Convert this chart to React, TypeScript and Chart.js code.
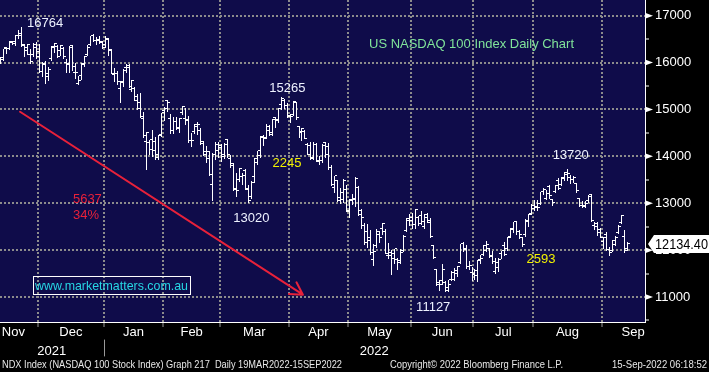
import React, { useEffect, useRef } from 'react';
import { Chart, registerables } from 'chart.js';

Chart.register(...registerables);

// ---------- data ----------
const monthNames = ['Nov', 'Dec', 'Jan', 'Feb', 'Mar', 'Apr', 'May', 'Jun', 'Jul', 'Aug', 'Sep'];
// trading days of each month that are shown in the chart
const monthShownDays = [13, 22, 20, 19, 23, 20, 21, 21, 20, 23, 9];
// trading days of each full month (used to centre the partly shown months)
const monthFullDays = [21, 22, 20, 19, 23, 20, 21, 21, 20, 23, 21];
const yearNames = ['2021', '2022'];
const yearFirstMonth = [0, 2];

const opens = [
  16010, 16100, 16320, 16290, 16440, 16440, 16580, 16620, 16360, 16260, 16180, 16180, 16320,
  16230, 15800, 15990, 15760, 16090, 16350, 16350, 16250, 16310, 16010, 15960, 16370, 15790, 15560, 15720, 15950, 16170, 16380, 16580, 16480, 16480, 16420,
  16380, 16520, 16250, 15740, 15760, 15440, 15580, 15900, 15940, 15430, 15440, 15270, 15150, 14800, 14320, 14300, 14350, 14320, 14050, 14470,
  14970, 15190, 14800, 14550, 14750, 14590, 14940, 14800, 14780, 14340, 14530, 14630, 14560, 14320, 14040, 14110, 13400, 14050, 14130,
  14180, 14040, 14350, 13960, 13810, 13290, 13510, 13580, 13700, 13320, 13150, 13580, 13870, 14020, 14400, 14410, 14560, 14510, 14820, 14760, 15110, 15190, 15090,
  14880, 14900, 15140, 14630, 14520, 14520, 14260, 14240, 13960, 14260, 13920, 13910, 14300, 14200, 13760, 13330, 13480, 13130, 13230, 13290,
  12820, 13060, 13070, 13330, 12770, 12530, 12400, 12200, 11810, 12100, 12340, 12460, 12400, 11890, 11960, 11920, 11800, 11740, 11990, 12410, 12640,
  12700, 12540, 12690, 12740, 12500, 12700, 12580, 12090, 11580, 11300, 11360, 11320, 11200, 11380, 11380, 11570, 11730, 12150, 12020, 11660, 11520,
  11490, 11450, 11800, 11900, 12000, 12030, 11880, 11540, 11640, 11920, 12100, 12030, 12290, 12450, 12600, 12390, 12270, 12330, 12640, 12790,
  12880, 12900, 13000, 13260, 13110, 13350, 13080, 13250, 13480, 13400, 13520, 13620, 13540, 13500, 13420, 13100, 12960, 12930, 13050, 13150, 12530, 12570, 12430,
  12190, 12330, 12020, 11990, 12130, 12380, 12580, 12300, 12040,
];
const highs = [
  16110, 16300, 16340, 16460, 16470, 16590, 16700, 16764, 16400, 16400, 16300, 16420, 16440,
  16390, 16020, 16030, 15900, 16360, 16420, 16380, 16370, 16340, 16080, 16360, 16380, 15990, 15720, 15990, 16150, 16380, 16570, 16600, 16540, 16560, 16470,
  16570, 16530, 16290, 15880, 15820, 15610, 15860, 15980, 15960, 15620, 15480, 15340, 15350, 14950, 14520, 14350, 14560, 14410, 14450, 14930,
  15050, 15200, 14900, 14840, 14830, 14810, 15070, 15040, 14860, 14490, 14690, 14730, 14600, 14330, 14220, 14120, 14080, 14300, 14300,
  14260, 14290, 14370, 14020, 13860, 13640, 13760, 13640, 13720, 13390, 13470, 13960, 14120, 14430, 14460, 14700, 14660, 14790, 14830, 15030, 15265, 15220, 15130,
  14900, 15180, 15160, 14640, 14610, 14560, 14280, 14310, 14300, 14290, 14000, 14260, 14310, 14280, 13810, 13590, 13500, 13320, 13520, 13380,
  13090, 13190, 13570, 13370, 12880, 12580, 12550, 12430, 12130, 12460, 12410, 12570, 12440, 12150, 12010, 12030, 11830, 12020, 12320, 12690, 12760,
  12790, 12870, 12730, 12840, 12780, 12790, 12680, 12100, 11600, 11370, 11700, 11350, 11370, 11560, 11620, 11670, 12140, 12180, 12120, 11760, 11630,
  11600, 11790, 11900, 12100, 12200, 12040, 11990, 11830, 11830, 11990, 12180, 12270, 12480, 12610, 12630, 12420, 12280, 12670, 12770, 12990,
  13070, 13060, 13250, 13330, 13280, 13390, 13090, 13390, 13530, 13550, 13660, 13720, 13600, 13580, 13430, 13110, 13050, 13050, 13180, 13200, 12610, 12600, 12480,
  12280, 12390, 12070, 12220, 12310, 12530, 12740, 12420, 12170,
];
const lows = [
  15990, 16060, 16200, 16280, 16390, 16380, 16530, 16360, 16130, 16180, 15990, 16150, 16090,
  15800, 15720, 15570, 15620, 16060, 16230, 16120, 16170, 16100, 15800, 15800, 15850, 15670, 15550, 15660, 15920, 16160, 16370, 16460, 16390, 16410, 16310,
  16330, 16160, 15780, 15600, 15550, 15170, 15500, 15790, 15480, 15390, 15200, 15010, 14840, 14420, 13720, 14040, 14000, 13950, 13940, 14440,
  14780, 14960, 14500, 14500, 14580, 14530, 14910, 14700, 14310, 14230, 14500, 14470, 14260, 14020, 13870, 13610, 13070, 13940, 13990,
  13910, 13960, 13990, 13770, 13290, 13150, 13480, 13420, 13300, 13020, 13120, 13450, 13830, 13990, 14240, 14400, 14460, 14460, 14620, 14730, 15010, 15040, 14830,
  14740, 14880, 14790, 14420, 14340, 14390, 14050, 13950, 13950, 13900, 13830, 13890, 13980, 13720, 13380, 13250, 13040, 13010, 13030, 12840,
  12700, 12990, 12940, 12740, 12480, 12130, 12060, 11910, 11690, 12060, 12180, 12340, 11930, 11840, 11500, 11730, 11590, 11730, 11990, 12400, 12540,
  12470, 12480, 12540, 12550, 12470, 12610, 12280, 11830, 11260, 11160, 11280, 11127, 11130, 11370, 11370, 11440, 11730, 11990, 11620, 11590, 11370,
  11380, 11350, 11720, 11890, 11990, 11850, 11730, 11520, 11560, 11840, 11890, 12000, 12280, 12390, 12350, 12250, 12090, 12310, 12520, 12760,
  12860, 12860, 12990, 13200, 13100, 13120, 12960, 13240, 13310, 13380, 13490, 13500, 13440, 13450, 13250, 12950, 12930, 12910, 13020, 12630, 12460, 12320, 12270,
  12050, 12000, 11900, 11980, 12100, 12370, 12570, 11970, 12000,
];
const closes = [
  16070, 16290, 16290, 16430, 16410, 16570, 16570, 16380, 16330, 16390, 16030, 16380, 16140,
  15820, 15950, 15710, 15850, 16330, 16400, 16140, 16360, 16140, 15970, 16330, 15920, 15780, 15620, 15980, 16140, 16320, 16570, 16480, 16490, 16440, 16320,
  16500, 16280, 15770, 15770, 15590, 15600, 15840, 15900, 15500, 15610, 15200, 15030, 14850, 14440, 14500, 14150, 14130, 13970, 14440, 14930,
  15030, 15140, 14550, 14740, 14620, 14800, 15070, 14760, 14340, 14340, 14680, 14690, 14270, 14110, 13950, 13620, 14050, 14250, 14240,
  14000, 14250, 14030, 13840, 13320, 13270, 13750, 13590, 13300, 13050, 13450, 13950, 14120, 14420, 14380, 14640, 14470, 14790, 14780, 15030, 15240, 15090, 14840,
  14860, 15180, 14830, 14510, 14590, 14390, 14050, 13970, 14260, 13900, 13920, 14230, 14050, 13770, 13410, 13590, 13050, 13070, 13480, 12850,
  13090, 13100, 13530, 12840, 12700, 12160, 12270, 11940, 11980, 12390, 12260, 12560, 11930, 11880, 11830, 12030, 11780, 11950, 12280, 12680, 12640,
  12540, 12870, 12570, 12620, 12750, 12640, 12280, 11840, 11270, 11260, 11580, 11140, 11270, 11520, 11500, 11660, 12140, 12030, 11660, 11680, 11500,
  11560, 11780, 11830, 12100, 12130, 11860, 11750, 11730, 11810, 11990, 11900, 12270, 12460, 12610, 12400, 12340, 12110, 12620, 12760, 12950,
  12940, 12900, 13240, 13290, 13210, 13160, 13020, 13380, 13320, 13550, 13650, 13640, 13500, 13540, 13280, 12960, 12950, 12990, 13180, 12640, 12500, 12370, 12270,
  12270, 12010, 11960, 12210, 12270, 12510, 12730, 11990, 12134.4,
];

const yTickValues = [10500, 11000, 11500, 12000, 12500, 13000, 13500, 14000, 14500, 15000, 15500, 16000, 16500, 17000];

// trading-day indices of the marked turning points
const peakDay = 7;
const marLowDay = 83;
const marHighDay = 94;
const junLowDay = 149;
const augHighDay = 190;

const FONT = '"Liberation Sans", Arial, sans-serif';
const NAVY = '#0f0c4a';
const GRID = '#8c8c8c';
const WHITE_TXT = '#eef2ff';
const YELLOW = '#f2f200';
const RED = '#e8213a';

export default function App() {
  const ref = useRef<HTMLCanvasElement>(null);

  useEffect(() => {
    document.body.style.margin = '0';
    document.body.style.background = '#000';
    const canvas = ref.current;
    if (!canvas) return;

    const N = closes.length;
    const xMin = -0.25;
    const xMax = N + 5;
    const starts: number[] = [];
    let acc = 0;
    monthShownDays.forEach((d) => {
      starts.push(acc);
      acc += d;
    });
    const bounds = starts.slice(1).map((s) => s - 0.5);
    const centers = monthNames.map((_, k) => {
      const a = starts[k] - 0.5;
      const b = a + monthShownDays[k];
      let c = (a + b) / 2;
      if (k === 0) c = b - monthFullDays[k] / 2;
      if (k === monthNames.length - 1) c = a + monthFullDays[k] / 2;
      return Math.min(Math.max(c, xMin + 4.5), xMax - 3.5);
    });
    const yearBounds = yearFirstMonth.map((m) => (m === 0 ? xMin : starts[m] - 0.5));
    const yearCenters = yearBounds.map((b, i) => (b + (i + 1 < yearBounds.length ? yearBounds[i + 1] : xMax)) / 2);

    const notes = [
      { text: String(highs[peakDay]), x: peakDay + 1.8, y: highs[peakDay], align: 'left', color: WHITE_TXT },
      { text: String(highs[marHighDay]), x: marHighDay + 2.1, y: highs[marHighDay] + 108, align: 'center', color: WHITE_TXT },
      { text: String(lows[marLowDay]), x: marLowDay + 1.05, y: lows[marLowDay] - 414, align: 'center', color: WHITE_TXT },
      { text: String(lows[junLowDay]), x: junLowDay - 4, y: lows[junLowDay] - 419, align: 'center', color: WHITE_TXT },
      { text: String(highs[augHighDay]), x: augHighDay + 1.1, y: highs[augHighDay] + 217, align: 'center', color: WHITE_TXT },
      { text: String(highs[marHighDay] - lows[marLowDay]), x: marHighDay + 1.95, y: 13773, align: 'center', color: YELLOW },
      { text: String(highs[augHighDay] - lows[junLowDay]), x: 181.1, y: 11719, align: 'center', color: YELLOW },
      { text: String(highs[peakDay] - lows[junLowDay]), x: 24.2, y: 12999, align: 'left', color: RED },
      { text: Math.round(((highs[peakDay] - lows[junLowDay]) / highs[peakDay]) * 100) + '%', x: 24.2, y: 12663, align: 'left', color: RED },
    ];

    const bgPlugin = {
      id: 'bg',
      beforeDraw(chart: any) {
        const { ctx, chartArea: a } = chart;
        ctx.save();
        ctx.fillStyle = '#000';
        ctx.fillRect(0, 0, chart.width, chart.height);
        ctx.fillStyle = NAVY;
        ctx.fillRect(a.left, a.top, a.right - a.left, a.bottom - a.top);
        ctx.restore();
      },
    };

    const ohlcPlugin = {
      id: 'ohlc',
      beforeDatasetDraw(chart: any, args: any) {
        if (args.index !== 0) return;
        const { ctx } = chart;
        const ys = chart.scales.y;
        ctx.save();
        ctx.fillStyle = '#ffffff';
        args.meta.data.forEach((el: any, i: number) => {
          const xi = Math.round(el.x - 0.5);
          const top = Math.round(Math.min(el.y, el.base));
          const bot = Math.round(Math.max(el.y, el.base));
          ctx.fillRect(xi, top, 1, Math.max(1, bot - top + 1));
          const yo = Math.round(ys.getPixelForValue(opens[i]) - 0.5);
          const yc = Math.round(ys.getPixelForValue(closes[i]) - 0.5);
          ctx.fillRect(xi - 2, yo, 2, 1);
          ctx.fillRect(xi + 1, yc, 2, 1);
        });
        ctx.restore();
        return false;
      },
    };

    const overlayPlugin = {
      id: 'overlay',
      afterDraw(chart: any) {
        const { ctx } = chart;
        const xs = chart.scales.x;
        const ys = chart.scales.y;
        const px = (v: number) => xs.getPixelForValue(v);
        const py = (v: number) => ys.getPixelForValue(v);
        ctx.save();

        // axis arrows at the major ticks
        ctx.fillStyle = '#ffffff';
        yTickValues.forEach((v) => {
          if (v % 1000 !== 0) return;
          const y = py(v);
          ctx.beginPath();
          ctx.moveTo(ys.left, y - 3);
          ctx.lineTo(ys.left + 8, y);
          ctx.lineTo(ys.left, y + 3);
          ctx.closePath();
          ctx.fill();
        });

        // title
        ctx.font = '13px ' + FONT;
        ctx.textBaseline = 'alphabetic';
        ctx.textAlign = 'left';
        ctx.fillStyle = '#80e49a';
        ctx.fillText('US NASDAQ 100 Index Daily Chart', 369, 48, 205);

        // value notes
        notes.forEach((n) => {
          ctx.font = '13px ' + FONT;
          ctx.fillStyle = n.color;
          ctx.textAlign = n.align as CanvasTextAlign;
          ctx.fillText(n.text, px(n.x), py(n.y));
        });

        // red trend arrow
        const ax = px(6.47), ay = py(14952);
        const bx = px(101.3), by = py(11049);
        ctx.strokeStyle = RED;
        ctx.lineWidth = 2;
        ctx.lineCap = 'round';
        ctx.beginPath();
        ctx.moveTo(ax, ay);
        ctx.lineTo(bx, by);
        const ang = Math.atan2(by - ay, bx - ax);
        const len = 14;
        ctx.moveTo(bx, by);
        ctx.lineTo(bx - len * Math.cos(ang - 0.52), by - len * Math.sin(ang - 0.52));
        ctx.moveTo(bx, by);
        ctx.lineTo(bx - len * Math.cos(ang + 0.52), by - len * Math.sin(ang + 0.52));
        ctx.stroke();

        // website box
        ctx.lineWidth = 1;
        ctx.strokeStyle = '#ffffff';
        ctx.strokeRect(33.5, 276.5, 157, 18);
        ctx.font = '13px ' + FONT;
        ctx.textAlign = 'left';
        ctx.fillStyle = '#27d6e4';
        ctx.fillText('www.marketmatters.com.au', 35, 290, 153);

        // last price box
        const last = closes[N - 1];
        const ly = Math.round(py(last));
        const l = ys.left + 3;
        ctx.fillStyle = '#ffffff';
        ctx.beginPath();
        ctx.moveTo(l, ly);
        ctx.lineTo(l + 6, ly - 9);
        ctx.lineTo(709, ly - 9);
        ctx.lineTo(709, ly + 9);
        ctx.lineTo(l + 6, ly + 9);
        ctx.closePath();
        ctx.fill();
        ctx.fillStyle = '#000000';
        ctx.font = '14px ' + FONT;
        ctx.textAlign = 'left';
        ctx.textBaseline = 'middle';
        ctx.fillText(last.toFixed(2), l + 7, ly + 1, 53);

        // year separator
        ctx.strokeStyle = '#9a9a9a';
        ctx.lineWidth = 1;
        const sx = Math.round(px(yearBounds[1])) + 0.5;
        ctx.beginPath();
        ctx.moveTo(sx, 340);
        ctx.lineTo(sx, 356);
        ctx.stroke();

        // footer
        ctx.textBaseline = 'alphabetic';
        ctx.font = '11px ' + FONT;
        ctx.fillStyle = '#e8e8e8';
        ctx.textAlign = 'left';
        ctx.fillText('NDX Index (NASDAQ 100 Stock Index) Graph 217  Daily 19MAR2022-15SEP2022', 2, 368, 340);
        ctx.fillText('Copyright\u00A9 2022 Bloomberg Finance L.P.', 390, 368, 173);
        ctx.fillText('15-Sep-2022 06:18:52', 612, 368, 95);
        ctx.restore();
      },
    };

    const chart = new Chart(canvas, {
      type: 'bar',
      data: {
        datasets: [
          {
            label: 'NDX',
            data: highs.map((h, i) => ({ x: i, y: [lows[i], h] })) as any,
            backgroundColor: '#ffffff',
            barThickness: 1,
            inflateAmount: 0,
            grouped: false,
            xAxisID: 'x',
            yAxisID: 'y',
          } as any,
        ],
      },
      options: {
        animation: false,
        responsive: false,
        events: [],
        layout: { padding: 0, autoPadding: false } as any,
        plugins: { legend: { display: false }, tooltip: { enabled: false } },
        scales: {
          x: {
            type: 'linear',
            position: 'bottom',
            weight: 0,
            min: xMin,
            max: xMax,
            offset: false,
            afterBuildTicks: (s: any) => {
              s.ticks = bounds.map((v) => ({ value: v }));
            },
            afterFit: (s: any) => {
              s.height = 0;
              s.paddingLeft = 0;
              s.paddingRight = 0;
              s.paddingTop = 0;
              s.paddingBottom = 0;
            },
            ticks: { display: false },
            grid: {
              offset: false,
              color: GRID,
              lineWidth: 2,
              drawTicks: true,
              tickLength: 5,
              tickWidth: 1,
              tickColor: '#9a9a9a',
            },
            border: { display: true, color: '#ffffff', width: 1, dash: [2, 2] },
          } as any,
          xm: {
            type: 'linear',
            position: 'bottom',
            weight: 1,
            min: xMin,
            max: xMax,
            offset: false,
            afterBuildTicks: (s: any) => {
              s.ticks = centers.map((v) => ({ value: v }));
            },
            afterFit: (s: any) => {
              s.height = 22;
              s.paddingLeft = 0;
              s.paddingRight = 0;
              s.paddingTop = 0;
              s.paddingBottom = 0;
            },
            ticks: {
              autoSkip: false,
              maxRotation: 0,
              padding: 3,
              color: '#ffffff',
              font: { family: FONT, size: 13 },
              callback: (_v: any, i: number) => monthNames[i],
            },
            grid: { display: false, drawTicks: false },
            border: { display: false },
          } as any,
          xy: {
            type: 'linear',
            position: 'bottom',
            weight: 2,
            min: xMin,
            max: xMax,
            offset: false,
            afterBuildTicks: (s: any) => {
              s.ticks = yearCenters.map((v) => ({ value: v }));
            },
            afterFit: (s: any) => {
              s.height = 28;
              s.paddingLeft = 0;
              s.paddingRight = 0;
              s.paddingTop = 0;
              s.paddingBottom = 0;
            },
            ticks: {
              autoSkip: false,
              maxRotation: 0,
              padding: 0,
              color: '#ffffff',
              font: { family: FONT, size: 13 },
              callback: (_v: any, i: number) => yearNames[i],
            },
            grid: { display: false, drawTicks: false },
            border: { display: false },
          } as any,
          y: {
            type: 'linear',
            position: 'right',
            min: 10467,
            max: 17335,
            beginAtZero: false,
            afterBuildTicks: (s: any) => {
              s.ticks = yTickValues.map((v) => ({ value: v }));
            },
            afterFit: (s: any) => {
              s.width = 64;
              s.paddingTop = 0;
              s.paddingBottom = 0;
              s.paddingLeft = 0;
              s.paddingRight = 0;
            },
            ticks: {
              padding: 6,
              color: '#ffffff',
              font: { family: FONT, size: 13 },
              callback: (v: any) => (Number(v) % 1000 === 0 ? String(v) : ''),
            },
            grid: {
              color: (c: any) => (c.tick && c.tick.value % 1000 === 0 ? GRID : 'rgba(0,0,0,0)'),
              lineWidth: 2,
              drawTicks: true,
              tickLength: 4,
              tickWidth: 1,
              tickColor: '#ffffff',
            },
            border: { display: true, color: '#ffffff', width: 1, dash: [2, 2] },
          } as any,
        },
      },
      plugins: [bgPlugin, ohlcPlugin, overlayPlugin],
    });

    return () => chart.destroy();
  }, []);

  return (
    <div style={{ width: 709, height: 372 }}>
      <canvas ref={ref} width={709} height={372} style={{ display: 'block' }} />
    </div>
  );
}
